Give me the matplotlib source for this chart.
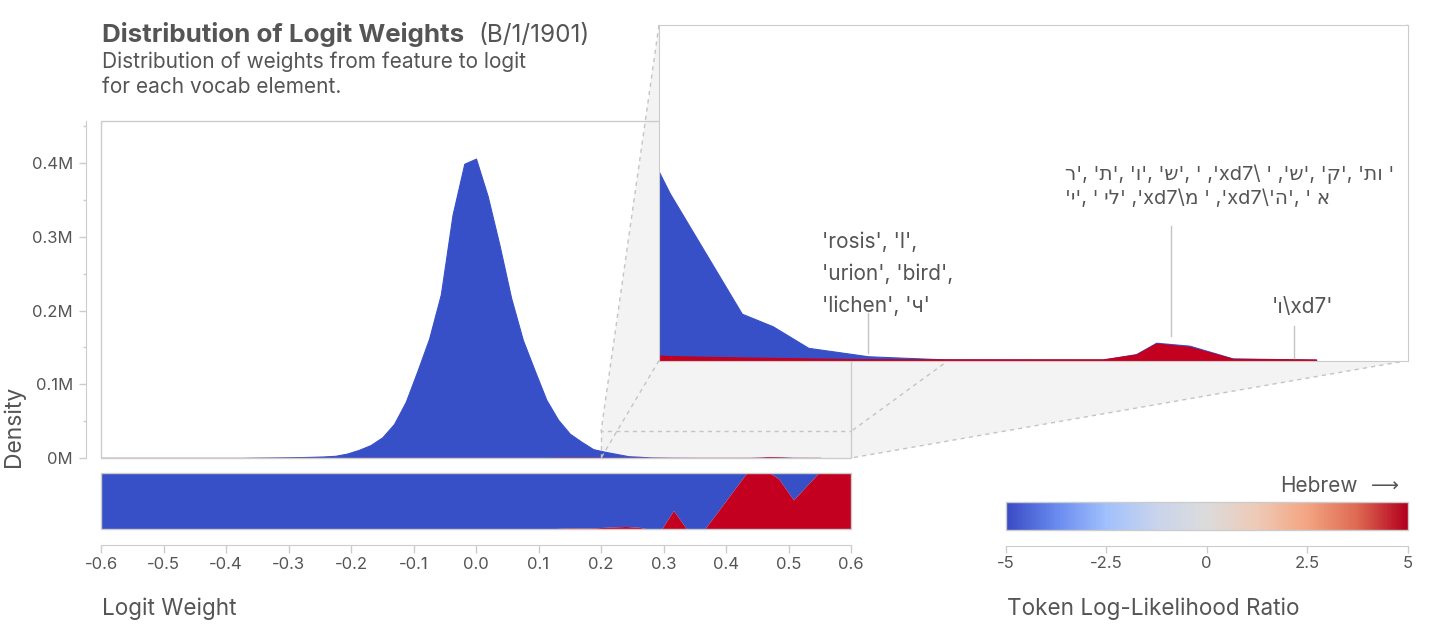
import numpy as np
import matplotlib
matplotlib.use("Agg")
import matplotlib.pyplot as plt
from matplotlib.patches import Polygon, Rectangle
from matplotlib.lines import Line2D
from matplotlib.colors import LinearSegmentedColormap
from matplotlib.ticker import FuncFormatter, FixedLocator
from matplotlib.transforms import blended_transform_factory

plt.rcParams['font.family'] = ['Inter', 'DejaVu Sans']

# ---------------- data ----------------
weights = [-0.6, -0.375, -0.35625, -0.3375, -0.31875, -0.3, -0.28125, -0.2625,
           -0.24375, -0.225, -0.20625, -0.1875, -0.16875, -0.15, -0.13125,
           -0.1125, -0.09375, -0.075, -0.05625, -0.0375, -0.01875, 0.0,
           0.01875, 0.0375, 0.05625, 0.075, 0.09375, 0.1125, 0.13125, 0.15,
           0.16875, 0.1875, 0.206, 0.2445, 0.261, 0.28, 0.312, 0.353, 0.4373,
           0.4551, 0.4658, 0.4836, 0.5067, 0.5512]
density_all = [0, 0, 300, 500, 700, 900, 1200, 1600,
               2100, 3000, 6000, 11000, 17500, 28000, 46000,
               76000, 118000, 162000, 222000, 330000, 399000, 406000,
               355000, 289000, 217000, 160000, 119000, 79000, 52000, 33000,
               22000, 12000, 8500, 2360, 1720, 620, 190, 30, 20,
               300, 880, 730, 80, 20]
density_hebrew = [0, 0, 0, 0, 0, 0, 0, 0,
                  0, 0, 0, 0, 0, 0, 0,
                  0, 0, 0, 0, 0, 0, 0,
                  0, 0, 0, 0, 0, 0, 300, 400,
                  400, 300, 200, 130, 110, 80, 40, 30, 30,
                  280, 840, 670, 60, 20]

share_x = [-0.6, 0.11, 0.13, 0.15, 0.17, 0.19, 0.215, 0.24, 0.262, 0.275,
           0.297, 0.316, 0.337, 0.366, 0.433, 0.47, 0.484, 0.508, 0.548, 0.6]
share_hebrew = [0, 0, 0.01, 0.02, 0.015, 0.02, 0.035, 0.045, 0.03, 0,
                0, 0.33, 0, 0, 1, 1, 0.9, 0.52, 1, 1]

x_ticks = [-0.6, -0.5, -0.4, -0.3, -0.2, -0.1, 0.0, 0.1, 0.2, 0.3, 0.4, 0.5, 0.6]
y_ticks = [0, 100000, 200000, 300000, 400000]
y_minor = [50000, 150000, 250000, 350000, 450000]
cbar_ticks = [-5, -2.5, 0, 2.5, 5]

ann_x = [0.3118, 0.4733, 0.5391]
ann_text = [
    "'rosis', 'l',\n'urion', 'bird',\n'lichen', 'ч'",
    "ר', 'ת', 'ו', 'ש', ' ,'xd7\\ ' ,'ש', 'ק', 'תו '\n'י', ' יל' ,'xd7\\מ ' ,'xd7\\'ה', ' א",
    "'ו\\xd7'",
]

# ---------------- style ----------------
BLUE = '#3750C8'
RED = '#C30020'
TXT = '#555555'
EDGE = '#cccccc'
W, H = 1436, 627


def px(l, t, r, b):
    return [l / W, 1 - b / H, (r - l) / W, (b - t) / H]


def ppt(p):
    return p * 72 / 100


fig = plt.figure(figsize=(W / 100, H / 100), dpi=100)

# ---------------- main density axes ----------------
ax = fig.add_axes(px(101, 121, 851, 458))
ax.set_facecolor('none')
ax.fill_between(weights, 0, density_all, color=BLUE, lw=0.8, edgecolor=BLUE)
ax.fill_between(weights, 0, density_hebrew, color=RED, lw=0.8, edgecolor=RED)
ax.set_xlim(-0.6, 0.6)
ax.set_ylim(0, 457000)
for s in ['top', 'right', 'bottom']:
    ax.spines[s].set_visible(False)
ax.spines['left'].set_position(('outward', ppt(15.5)))
ax.spines['left'].set_color(EDGE)
ax.set_xticks([])
ax.yaxis.set_major_locator(FixedLocator(y_ticks))
ax.yaxis.set_minor_locator(FixedLocator(y_minor))
ax.yaxis.set_major_formatter(FuncFormatter(lambda v, p: f"{v / 1e6:g}M"))
ax.tick_params(axis='y', which='major', length=ppt(7.5), width=1, color=EDGE,
               labelcolor=TXT, labelsize=12, pad=ppt(5))
ax.tick_params(axis='y', which='minor', length=ppt(3.5), width=1, color=EDGE)
ax.add_patch(Rectangle((0, 0), 1, 1, transform=ax.transAxes, fill=False,
                       edgecolor=EDGE, lw=1, clip_on=False, zorder=4))
# zoom indicator rectangle
ZOOM_X0, ZOOM_X1, ZOOM_Y1 = 0.2, 0.6, 36000
ax.plot([ZOOM_X0, ZOOM_X0, ZOOM_X1], [0, ZOOM_Y1, ZOOM_Y1], color='#c4c4c4',
        lw=1, dashes=(3, 3), zorder=5, clip_on=False)

# ---------------- red-share strip ----------------
ax_s = fig.add_axes(px(101, 473, 851, 529))
ax_s.fill_between(share_x, share_hebrew, 1, color=BLUE, lw=0)
ax_s.fill_between(share_x, 0, share_hebrew, color=RED, lw=0)
ax_s.set_xlim(-0.6, 0.6)
ax_s.set_ylim(0, 1)
for s in ['top', 'right', 'left']:
    ax_s.spines[s].set_visible(False)
ax_s.spines['bottom'].set_position(('outward', ppt(16)))
ax_s.spines['bottom'].set_color(EDGE)
ax_s.set_yticks([])
ax_s.set_xticks(x_ticks)
ax_s.xaxis.set_major_formatter(FuncFormatter(lambda v, p: f"{round(v, 1):.1f}".replace('-0.0', '0.0')))
ax_s.tick_params(axis='x', length=ppt(8), width=1, color=EDGE, labelcolor=TXT,
                 labelsize=12, pad=ppt(4))
ax_s.add_patch(Rectangle((0, 0), 1, 1, transform=ax_s.transAxes, fill=False,
                         edgecolor=EDGE, lw=1, clip_on=False, zorder=4))

# ---------------- colorbar ----------------
cmap = LinearSegmentedColormap.from_list(
    'llr', ['#3a4bc4', '#6a8bef', '#a2c1fd', '#cad4ec', '#dcdcdc',
            '#eecab6', '#f4a583', '#de6a53', '#b3001e'])
ax_c = fig.add_axes(px(1006, 501.5, 1407.5, 529.5))
ax_c.imshow(np.linspace(-5, 5, 600)[None, :], aspect='auto', cmap=cmap,
            extent=(-5, 5, 0, 1))
ax_c.set_xlim(-5, 5)
ax_c.set_ylim(0, 1)
for s in ['top', 'right', 'left']:
    ax_c.spines[s].set_visible(False)
ax_c.spines['bottom'].set_position(('outward', ppt(16)))
ax_c.spines['bottom'].set_color(EDGE)
ax_c.set_yticks([])
ax_c.set_xticks(cbar_ticks)
ax_c.xaxis.set_major_formatter(FuncFormatter(lambda v, p: f"{v:g}"))
ax_c.tick_params(axis='x', length=ppt(7), width=1, color=EDGE, labelcolor=TXT,
                 labelsize=12, pad=ppt(4))
ax_c.add_patch(Rectangle((0, 0), 1, 1, transform=ax_c.transAxes, fill=False,
                         edgecolor=EDGE, lw=1, clip_on=False, zorder=4))

# ---------------- inset ----------------
ax_in = fig.add_axes(px(659, 25, 1408, 360.5), zorder=5)
ax_in.set_facecolor('white')
ax_in.fill_between(weights, 0, density_all, color=BLUE, lw=0.8, edgecolor=BLUE)
ax_in.fill_between(weights, 0, density_hebrew, color=RED, lw=0.8, edgecolor=RED)
ax_in.set_xlim(ZOOM_X0, ZOOM_X1)
ax_in.set_ylim(0, 17100)
ax_in.set_xticks([])
ax_in.set_yticks([])
for s in ax_in.spines.values():
    s.set_color(EDGE)

bt = blended_transform_factory(ax_in.transData, ax_in.transAxes)
lead = [(0.1416, 0.0232), (0.401, 0.073), (0.103, 0.0066)]
for xv, (y0, y1) in zip(ann_x, lead):
    ax_in.plot([xv, xv], [y0, y1], transform=bt, color='#c4c4c4', lw=1)
ax_in.text(0.2172, 0.385, ann_text[0], transform=ax_in.transAxes, ha='left',
           va='top', fontsize=15, color=TXT, linespacing=1.7)
ax_in.text(0.542, 0.585, ann_text[1], transform=ax_in.transAxes, ha='left',
           va='top', fontsize=14.4, color=TXT, linespacing=1.42)
ax_in.text(0.818, 0.19, ann_text[2], transform=ax_in.transAxes, ha='left',
           va='top', fontsize=15, color=TXT)

# ---------------- connector between zoom rectangle and inset ----------------
inv = fig.transFigure.inverted()


def to_fig(trans, pts):
    return inv.transform(trans.transform(pts))


r_bl, r_tl, r_tr, r_br = to_fig(ax.transData, [(ZOOM_X0, 0), (ZOOM_X0, ZOOM_Y1),
                                               (ZOOM_X1, ZOOM_Y1), (ZOOM_X1, 0)])
i_bl, i_tl, i_tr, i_br = to_fig(ax_in.transAxes, [(0, 0), (0, 1), (1, 1), (1, 0)])
fig.patches.append(Polygon([i_tl, i_tr, i_br, r_br, r_bl, r_tl], closed=True,
                           transform=fig.transFigure, facecolor='#f3f3f3',
                           edgecolor='none', zorder=-1))
for a, b in [(i_tl, r_tl), (i_bl, r_bl), (i_tr, r_tr), (i_br, r_br)]:
    fig.lines.append(Line2D([a[0], b[0]], [a[1], b[1]], transform=fig.transFigure,
                            color='#c4c4c4', lw=1, dashes=(3, 3), zorder=1))

# ---------------- texts ----------------
fig.text(102 / W, 1 - 42.3 / H, "Distribution of Logit Weights", fontsize=18.7,
         fontweight='bold', color=TXT, va='baseline')
fig.text(478 / W, 1 - 42.3 / H, "(B/1/1901)", fontsize=17.5, color=TXT, va='baseline')
fig.text(102 / W, 1 - 68.3 / H, "Distribution of weights from feature to logit",
         fontsize=15, color=TXT, va='baseline')
fig.text(102 / W, 1 - 93.3 / H, "for each vocab element.", fontsize=15,
         color=TXT, va='baseline')
fig.text(14 / W, 1 - 467 / H, "Density", rotation=90, ha='center', va='bottom',
         fontsize=16.5, color=TXT)
fig.text(102 / W, 1 - 615.5 / H, "Logit Weight", fontsize=16.2, color=TXT, va='baseline')
fig.text(1007 / W, 1 - 615.5 / H, "Token Log-Likelihood Ratio", fontsize=16.2,
         color=TXT, va='baseline')
fig.text(1358 / W, 1 - 491.5 / H, "Hebrew", fontsize=15, color=TXT,
         ha='right', va='baseline')
fig.text(1371 / W, 1 - 491.5 / H, "\u27f6", fontsize=14, color=TXT,
         ha='left', va='baseline', family=['DejaVu Sans'])

fig.savefig('out.png', dpi=100)
